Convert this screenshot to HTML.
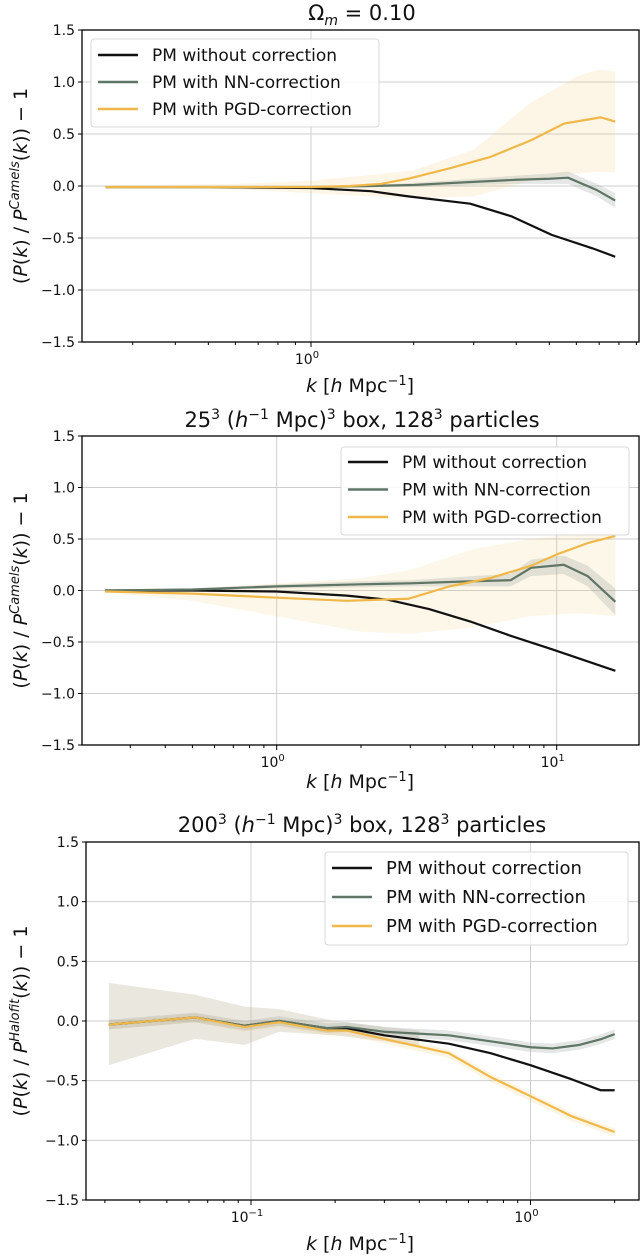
<!DOCTYPE html>
<html><head><meta charset="utf-8">
<style>
html,body{margin:0;padding:0;background:#fff;}
svg{display:block;font-family:"DejaVu Sans","Liberation Sans",sans-serif;}
</style></head>
<body>
<svg id="fig" width="640" height="1260" viewBox="0 0 640 1260" xmlns="http://www.w3.org/2000/svg"></svg>
<script>
// ---- Panel 1 data (Omega_m = 0.10) ----
const p1_k_black = [0.25,0.5,1.0,1.5,1.93,2.93,3.86,5.08,6.7,7.8];
const p1_black   = [-0.01,-0.01,-0.02,-0.05,-0.10,-0.17,-0.29,-0.47,-0.60,-0.68];
const p1_k_green = [0.25,1.0,1.5,2.0,3.0,4.0,5.0,5.67,6.9,7.8];
const p1_green   = [-0.01,-0.01,0.0,0.01,0.04,0.06,0.07,0.08,-0.04,-0.14];
const p1_k_orange= [0.25,1.0,1.3,1.6,1.93,2.55,3.36,4.42,5.52,6.0,7.07,7.8];
const p1_orange  = [-0.01,-0.01,0.0,0.02,0.07,0.17,0.28,0.44,0.60,0.62,0.66,0.62];
const p1_k_oband = [0.25,0.6,1.0,2.0,3.0,4.4,6.0,7.0,7.8];
const p1_oband_hi= [0.01,0.02,0.05,0.15,0.35,0.80,1.05,1.12,1.10];
const p1_oband_lo= [-0.01,-0.03,-0.07,-0.12,-0.10,0.05,0.12,0.14,0.13];
const p1_gband_w = [0.01,0.01,0.01,0.02,0.03,0.04,0.05,0.06,0.06,0.07];
// ---- Panel 2 data (25^3 box) ----
const p2_k_black = [0.244,0.5,1.0,1.78,2.5,3.5,4.9,6.85,9.6,16.2];
const p2_black   = [0.0,0.0,-0.01,-0.05,-0.09,-0.18,-0.30,-0.44,-0.57,-0.78];
const p2_k_green = [0.244,0.5,1.0,2.0,3.0,5.0,6.85,8.1,10.6,12.9,16.2];
const p2_green   = [0.0,0.01,0.04,0.06,0.07,0.09,0.10,0.22,0.25,0.14,-0.11];
const p2_k_orange= [0.244,0.5,1.0,1.78,2.96,4.14,5.78,8.1,10.0,12.9,16.2];
const p2_orange  = [-0.01,-0.03,-0.07,-0.10,-0.08,0.04,0.12,0.24,0.35,0.46,0.53];
const p2_k_oband = [0.244,0.5,1.0,2.0,3.0,5.0,8.0,12.0,16.2];
const p2_oband_hi= [0.0,0.02,0.07,0.12,0.20,0.40,0.50,0.55,0.58];
const p2_oband_lo= [-0.02,-0.10,-0.25,-0.40,-0.42,-0.36,-0.25,-0.22,-0.25];
const p2_gband_w = [0.005,0.01,0.02,0.03,0.03,0.05,0.06,0.08,0.09,0.10,0.13];
// ---- Panel 3 data (200^3 box) ----
const p3_k_black = [0.031,0.063,0.095,0.126,0.187,0.22,0.3,0.51,0.72,1.0,1.41,1.78,2.0];
const p3_black   = [-0.03,0.03,-0.04,0.0,-0.06,-0.06,-0.12,-0.19,-0.27,-0.37,-0.49,-0.58,-0.58];
const p3_k_green = [0.031,0.063,0.095,0.126,0.187,0.22,0.3,0.51,0.72,1.0,1.2,1.5,1.8,2.0];
const p3_green   = [-0.03,0.03,-0.04,0.0,-0.06,-0.05,-0.09,-0.12,-0.17,-0.22,-0.23,-0.20,-0.15,-0.11];
const p3_k_orange= [0.031,0.063,0.095,0.126,0.187,0.22,0.3,0.51,0.72,1.0,1.41,2.0];
const p3_orange  = [-0.03,0.03,-0.05,-0.01,-0.08,-0.08,-0.15,-0.27,-0.47,-0.63,-0.80,-0.93];
const p3_k_band  = [0.031,0.063,0.095,0.126,0.2,0.3,0.4];
const p3_band_hi = [0.32,0.22,0.12,0.10,0.0,-0.05,-0.08];
const p3_band_lo = [-0.37,-0.15,-0.20,-0.09,-0.12,-0.17,-0.22];

const yTicks = [1.5,1.0,0.5,0.0,-0.5,-1.0,-1.5];
const NS='http://www.w3.org/2000/svg';
const svg=document.getElementById('fig');
function mk(tag,attrs,parent){const e=document.createElementNS(NS,tag);for(const a in attrs)e.setAttribute(a,attrs[a]);(parent||svg).appendChild(e);return e;}
const C_BLACK='#111111',C_GREEN='#5f7565',C_ORANGE='#f0b848';

function panel(o){
  const g=mk('g',{});
  
  
  const L=o.left,R=639,T=o.top,B=o.bottom;
  const X=k=>o.x0+(Math.log10(k)-o.lx0)*o.dec;
  const Y=v=>T+(1.5-v)*(B-T)/3;
  yTicks.forEach(v=>{const l=mk('line',{x1:L,x2:R,y1:Y(v),y2:Y(v),stroke:'#cfcfcf','stroke-width':1},g);
    });
  o.majors.forEach(m=>{const l=mk('line',{x1:X(m.k),x2:X(m.k),y1:T,y2:B,stroke:'#cfcfcf','stroke-width':1},g);
    });
  o.bands.forEach(b=>{
    let pts=b.k.map((k,i)=>X(k)+','+Y(b.hi[i]));
    pts=pts.concat(b.k.map((k,i)=>X(k)+','+Y(b.lo[i])).reverse());
    const p=mk('polygon',{points:pts.join(' '),fill:b.fill,stroke:'none'},g);
    
  });
  o.series.forEach(s=>{
    const p=mk('polyline',{points:s.k.map((k,i)=>X(k)+','+Y(s.v[i])).join(' '),fill:'none',stroke:s.c,'stroke-width':2.2,'stroke-linejoin':'round'},g);
    
  });
  const f=mk('rect',{x:L,y:T,width:R-L,height:B-T,fill:'none',stroke:'#000','stroke-width':1.3},g);
  
  yTicks.forEach(v=>{
    mk('line',{x1:L-4,x2:L,y1:Y(v),y2:Y(v),stroke:'#000'},g);
    const t=mk('text',{x:L-7,y:Y(v)+5,'text-anchor':'end','font-size':14,fill:'#111'},g);
    t.textContent=(v<0?'\u2212':'')+Math.abs(v).toFixed(1);
    
  });
  for(let d=o.dmin;d<=o.dmax;d++){for(let m=1;m<10;m++){const k=m*Math.pow(10,d);const x=X(k);
    if(x<L||x>R)continue;mk('line',{x1:x,x2:x,y1:B,y2:B+(m===1?5:3),stroke:'#000'},g);}}
  o.majors.forEach(m=>{
    const t=mk('text',{x:X(m.k)-4,y:B+22,'text-anchor':'middle','font-size':14,fill:'#111'},g);
    t.textContent='10';
    const s=mk('tspan',{dy:-6,'font-size':10},t);s.textContent=m.e;
    
  });
  const xl=mk('text',{x:360,y:o.xlab,'text-anchor':'middle','font-size':19,fill:'#111'},g);
  xl.innerHTML='<tspan font-style="italic">k</tspan> [<tspan font-style="italic">h</tspan> Mpc<tspan dy="-7" font-size="13">\u22121</tspan><tspan dy="7">]</tspan>';
  
  const yc=(T+B)/2;
  const yl=mk('text',{x:0,y:0,transform:`translate(27,${yc}) rotate(-90)`,'text-anchor':'middle','font-size':19,fill:'#111'},g);
  yl.innerHTML=`(<tspan font-style="italic">P</tspan>(<tspan font-style="italic">k</tspan>) / <tspan font-style="italic">P</tspan><tspan dy="-8" font-size="13" font-style="italic">${o.ref}</tspan><tspan dy="8">(</tspan><tspan font-style="italic">k</tspan>)) \u2212 1`;
  
  const tt=mk('text',{x:362,y:o.titleY,'text-anchor':'middle','font-size':21,fill:'#111'},g);
  tt.innerHTML=o.title;
  
  const lg=o.leg;
  const lb=mk('rect',{x:lg.x,y:lg.y,width:lg.w,height:lg.h,rx:3,fill:'rgba(255,255,255,0.85)',stroke:'#d8d8d8'},g);
  
  const names=['PM without correction','PM with NN-correction','PM with PGD-correction'];
  const cols=[C_BLACK,C_GREEN,C_ORANGE];
  names.forEach((n,i)=>{
    const yy=lg.y0+i*lg.dy;
    const ln=mk('line',{x1:lg.x+7,x2:lg.x+47,y1:yy,y2:yy,stroke:cols[i],'stroke-width':2.5},g);
    
    const t=mk('text',{x:lg.x+61,y:yy+6,'font-size':lg.fs,fill:'#111'},g);t.textContent=n;
    
  });
}

panel({name:'panel-omega-m',left:82,top:30,bottom:342,x0:311,lx0:0,dec:341,dmin:-1,dmax:0,
  majors:[{k:1,e:'0'}],xlab:392,ref:'Camels',titleY:20,
  title:'\u03A9<tspan dy="5" font-size="14" font-style="italic">m</tspan><tspan dy="-5"> = 0.10</tspan>',
  bands:[{name:'pgd-band',k:p1_k_oband,hi:p1_oband_hi,lo:p1_oband_lo,fill:'rgba(245,205,120,0.18)'},
         {name:'nn-band',k:p1_k_green,hi:p1_green.map((v,i)=>v+p1_gband_w[i]),lo:p1_green.map((v,i)=>v-p1_gband_w[i]),fill:'rgba(130,145,135,0.22)'}],
  series:[{name:'pm-without-correction-line',k:p1_k_black,v:p1_black,c:C_BLACK},
          {name:'pm-nn-correction-line',k:p1_k_green,v:p1_green,c:C_GREEN},
          {name:'pm-pgd-correction-line',k:p1_k_orange,v:p1_orange,c:C_ORANGE}],
  leg:{x:91,y:39,w:288,h:88,y0:55,dy:27,fs:17}});

panel({name:'panel-25-box',left:82,top:436,bottom:745,x0:276.7,lx0:0,dec:280,dmin:-1,dmax:1,
  majors:[{k:1,e:'0'},{k:10,e:'1'}],xlab:788,ref:'Camels',titleY:427,
  title:'25<tspan dy="-8" font-size="14">3</tspan><tspan dy="8"> (</tspan><tspan font-style="italic">h</tspan><tspan dy="-8" font-size="14">\u22121</tspan><tspan dy="8"> Mpc)</tspan><tspan dy="-8" font-size="14">3</tspan><tspan dy="8"> box, 128</tspan><tspan dy="-8" font-size="14">3</tspan><tspan dy="8"> particles</tspan>',
  bands:[{name:'pgd-band',k:p2_k_oband,hi:p2_oband_hi,lo:p2_oband_lo,fill:'rgba(245,205,120,0.16)'},
         {name:'nn-band',k:p2_k_green,hi:p2_green.map((v,i)=>v+p2_gband_w[i]),lo:p2_green.map((v,i)=>v-p2_gband_w[i]),fill:'rgba(130,145,135,0.22)'}],
  series:[{name:'pm-without-correction-line',k:p2_k_black,v:p2_black,c:C_BLACK},
          {name:'pm-nn-correction-line',k:p2_k_green,v:p2_green,c:C_GREEN},
          {name:'pm-pgd-correction-line',k:p2_k_orange,v:p2_orange,c:C_ORANGE}],
  leg:{x:341,y:447,w:288,h:88,y0:462,dy:27.5,fs:17}});

panel({name:'panel-200-box',left:86,top:842,bottom:1200,x0:251,lx0:-1,dec:279.5,dmin:-2,dmax:0,
  majors:[{k:0.1,e:'\u22121'},{k:1,e:'0'}],xlab:1250,ref:'Halofit',titleY:832,
  title:'200<tspan dy="-8" font-size="14">3</tspan><tspan dy="8"> (</tspan><tspan font-style="italic">h</tspan><tspan dy="-8" font-size="14">\u22121</tspan><tspan dy="8"> Mpc)</tspan><tspan dy="-8" font-size="14">3</tspan><tspan dy="8"> box, 128</tspan><tspan dy="-8" font-size="14">3</tspan><tspan dy="8"> particles</tspan>',
  bands:[{name:'error-band',k:p3_k_band,hi:p3_band_hi,lo:p3_band_lo,fill:'rgba(200,192,170,0.38)'},
         {name:'pgd-band',k:p3_k_orange,hi:p3_orange.map(v=>v+0.03),lo:p3_orange.map(v=>v-0.04),fill:'rgba(245,205,120,0.2)'},
         {name:'nn-band',k:p3_k_green,hi:p3_green.map(v=>v+0.04),lo:p3_green.map(v=>v-0.04),fill:'rgba(130,145,135,0.22)'}],
  series:[{name:'pm-without-correction-line',k:p3_k_black,v:p3_black,c:C_BLACK},
          {name:'pm-nn-correction-line',k:p3_k_green,v:p3_green,c:C_GREEN},
          {name:'pm-pgd-correction-line',k:p3_k_orange,v:p3_orange,c:C_ORANGE}],
  leg:{x:325,y:852,w:303,h:93,y0:868,dy:29,fs:18}});
</script>
</body></html>
